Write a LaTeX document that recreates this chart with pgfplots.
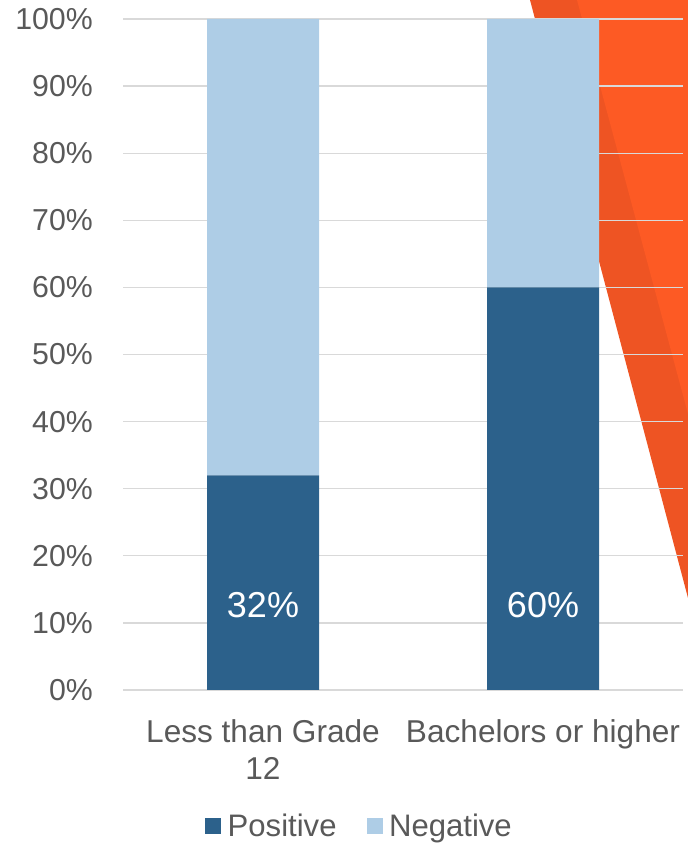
\documentclass[border=0pt]{standalone}
\usepackage{pgfplots}
\pgfplotsset{compat=1.18}
\usepackage{fontspec}
\setmainfont{Liberation Sans}
\definecolor{posc}{HTML}{2C618B}
\definecolor{negc}{HTML}{AECDE6}
\definecolor{txt}{HTML}{595959}
\definecolor{gridc}{HTML}{D9D9D9}
\definecolor{orA}{HTML}{EE5423}
\definecolor{orB}{HTML}{FD5A24}
\begin{document}
\begin{tikzpicture}[x=1bp,y=1bp]
\useasboundingbox (0,0) rectangle (688,843);
\fill[orA] (530,843) -- (688,843) -- (688,245) -- cycle;
\fill[orB] (577,843) -- (688,843) -- (688,429) -- cycle;
\begin{axis}[
  at={(123bp,153bp)}, anchor=south west,
  scale only axis, width=560bp, height=671bp,
  ybar stacked, bar width=112bp,
  xmin=-0.5, xmax=1.5, ymin=0, ymax=100,
  xtick={0,1},
  xticklabels={{Less than Grade\\12},{Bachelors or higher}},
  ytick={0,10,20,30,40,50,60,70,80,90,100},
  yticklabels={0\%,10\%,20\%,30\%,40\%,50\%,60\%,70\%,80\%,90\%,100\%},
  axis line style={draw=none},
  major tick length=0pt,
  ymajorgrids, grid style={gridc, line width=1.3bp},
  yticklabel style={font=\fontsize{30.3bp}{36bp}\selectfont, text=txt, inner sep=0pt, xshift=-30bp},
  xticklabel style={font=\fontsize{31.6bp}{37bp}\selectfont, text=txt, align=center, inner sep=0pt, yshift=-29bp},
  legend style={at={(0.4223,-0.203)}, anchor=center, draw=none, fill=none,
    legend columns=2, font=\fontsize{31.1bp}{37bp}\selectfont, text=txt,
    /tikz/every odd column/.append style={column sep=4.5bp},
    /tikz/every even column/.append style={column sep=28bp}},
  legend image code/.code={\fill[#1, draw=none] (0bp,-8bp) rectangle (16bp,8bp);},
]
\addplot[fill=posc, draw=none] coordinates {(0,32) (1,60)};
\addplot[fill=negc, draw=none] coordinates {(0,68) (1,40)};
\legend{Positive, Negative}
\end{axis}
\begin{axis}[
  at={(123bp,153bp)}, anchor=south west,
  scale only axis, width=560bp, height=671bp,
  xmin=-0.5, xmax=1.5, ymin=0, ymax=100, hide axis]
\addplot[draw=none, mark=none, nodes near coords, point meta=explicit symbolic,
  every node near coord/.append style={anchor=center, text=white, font=\fontsize{36bp}{42bp}\selectfont}]
  coordinates {(0,12.6) [32\%] (1,12.6) [60\%]};
\end{axis}
\end{tikzpicture}
\end{document}
